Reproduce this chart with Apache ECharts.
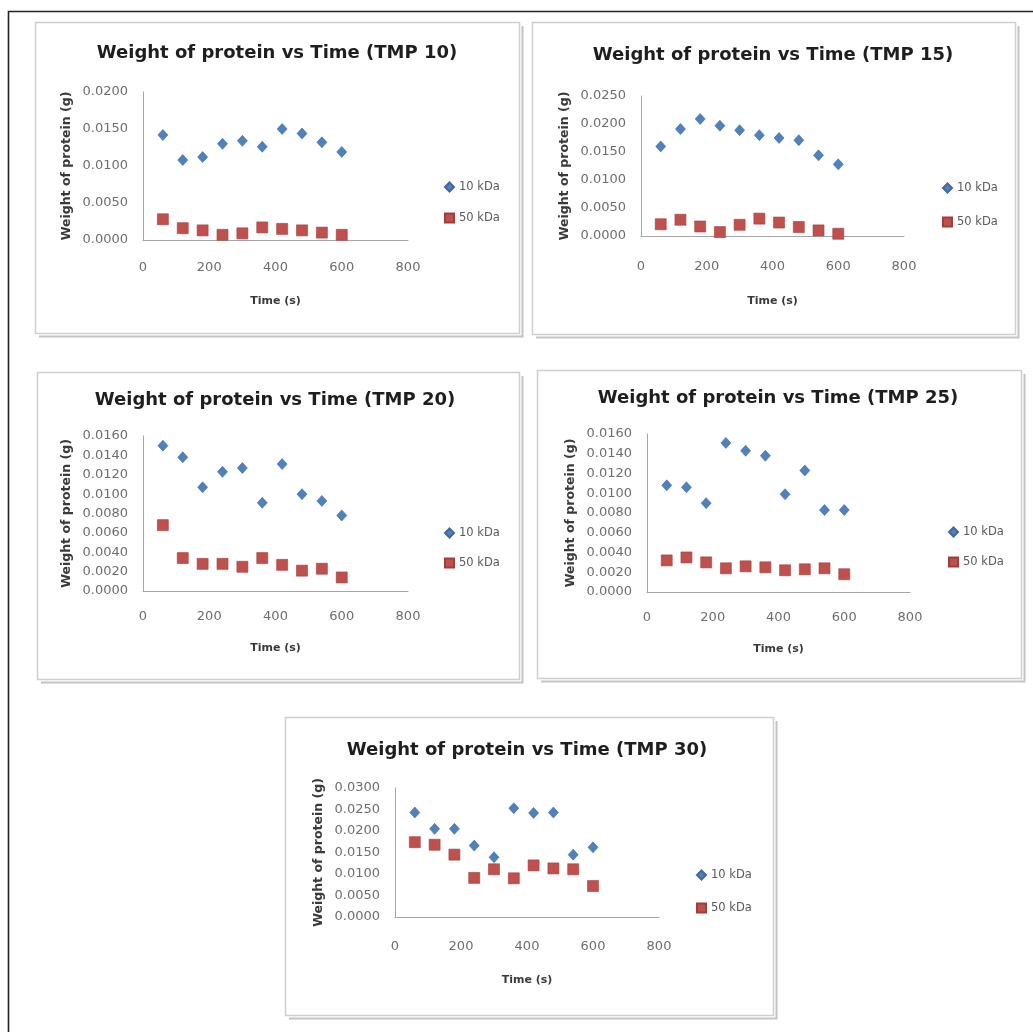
<!DOCTYPE html>
<html>
<head>
<meta charset="utf-8">
<title>Weight of protein vs Time</title>
<script src="https://cdn.jsdelivr.net/npm/echarts@6/dist/echarts.min.js"></script>
<style>
  html, body { margin: 0; padding: 0; background: #ffffff; }
  #chart { width: 1033px; height: 1032px; }
</style>
</head>
<body>
<div id="chart"></div>
<script>
// Sampling times (s), shared by every run
const timeS = [60, 120, 180, 240, 300, 360, 420, 480, 540, 600];

// Weight of protein (g) collected at each transmembrane pressure
const tmp10_10kDa = [0.0142, 0.0108, 0.0112, 0.0130, 0.0134, 0.0126, 0.0150, 0.0144, 0.0132, 0.0119];
const tmp10_50kDa = [0.0028, 0.0016, 0.0013, 0.0007, 0.0009, 0.0017, 0.0015, 0.0013, 0.0010, 0.0007];

const tmp15_10kDa = [0.0160, 0.0191, 0.0209, 0.0197, 0.0189, 0.0180, 0.0175, 0.0171, 0.0144, 0.0128];
const tmp15_50kDa = [0.0021, 0.0029, 0.0017, 0.0007, 0.0020, 0.0031, 0.0024, 0.0016, 0.0010, 0.0004];

const tmp20_10kDa = [0.0150, 0.0138, 0.0107, 0.0123, 0.0127, 0.0091, 0.0131, 0.0100, 0.0093, 0.0078];
const tmp20_50kDa = [0.0068, 0.0034, 0.0028, 0.0028, 0.0025, 0.0034, 0.0027, 0.0021, 0.0023, 0.0014];

const tmp25_10kDa = [0.0108, 0.0106, 0.0090, 0.0151, 0.0143, 0.0138, 0.0099, 0.0123, 0.0083, 0.0083];
const tmp25_50kDa = [0.0032, 0.0035, 0.0030, 0.0024, 0.0026, 0.0025, 0.0022, 0.0023, 0.0024, 0.0018];

const tmp30_10kDa = [0.0243, 0.0205, 0.0205, 0.0166, 0.0139, 0.0253, 0.0242, 0.0243, 0.0145, 0.0162];
const tmp30_50kDa = [0.0174, 0.0168, 0.0145, 0.0091, 0.0111, 0.0090, 0.0120, 0.0113, 0.0111, 0.0072];

// Chart titles and axis scales
const chartTitles = [
  'Weight of protein vs Time (TMP 10)',
  'Weight of protein vs Time (TMP 15)',
  'Weight of protein vs Time (TMP 20)',
  'Weight of protein vs Time (TMP 25)',
  'Weight of protein vs Time (TMP 30)'
];
const seriesNames = ['10 kDa', '50 kDa'];
const xTicks = [0, 200, 400, 600, 800];
const yMaxes = [0.0200, 0.0250, 0.0160, 0.0160, 0.0300];
const ySteps = [0.0050, 0.0050, 0.0020, 0.0020, 0.0050];
const xAxisTitle = 'Time (s)';
const yAxisTitle = 'Weight of protein (g)';

const panelData = [
  [tmp10_10kDa, tmp10_50kDa],
  [tmp15_10kDa, tmp15_50kDa],
  [tmp20_10kDa, tmp20_50kDa],
  [tmp25_10kDa, tmp25_50kDa],
  [tmp30_10kDa, tmp30_50kDa]
];

// Placement of each small chart on the page
const layout = [
  { frame: [35, 22, 484, 311], grid: [143, 92, 265, 148], title: [277, 53], legend: [444, 180, 31], xLab: 21, xName: 56 },
  { frame: [532, 22, 483, 312], grid: [641, 96, 263, 140], title: [773, 55], legend: [942, 181, 34], xLab: 24, xName: 60 },
  { frame: [37, 372, 482, 307], grid: [143, 436, 265, 155], title: [275, 400], legend: [444, 526, 30], xLab: 19, xName: 52 },
  { frame: [537, 370, 484, 308], grid: [647, 434, 263, 158], title: [778, 398], legend: [948, 525, 30], xLab: 19, xName: 52 },
  { frame: [285, 717, 488, 298], grid: [395, 788, 264, 129], title: [527, 750], legend: [696, 868, 33], xLab: 23, xName: 58 }
];

const BLUE = '#4F81BD';
const RED = '#C0504D';
const FONT = 'DejaVu Sans';

const option = {
  animation: false,
  backgroundColor: '#ffffff',
  title: [],
  legend: [],
  grid: [],
  xAxis: [],
  yAxis: [],
  series: [],
  graphic: []
};

// Outer border of the figure (top and left edges)
option.graphic.push({
  type: 'polyline',
  shape: { points: [[8.5, 1032], [8.5, 11.5], [1033, 11.5]] },
  style: { stroke: '#222', lineWidth: 1.6, fill: null },
  silent: true,
  z: -10
});

layout.forEach((L, i) => {
  const [fx, fy, fw, fh] = L.frame;
  // frame with a soft drop shadow on the right and bottom
  option.graphic.push({
    type: 'polyline',
    shape: { points: [[fx + 4, fy + fh + 3.5], [fx + fw + 3.5, fy + fh + 3.5], [fx + fw + 3.5, fy + 4]] },
    style: { stroke: '#c4c4c4', lineWidth: 2, fill: null },
    silent: true,
    z: -10
  });
  option.graphic.push({
    type: 'rect',
    shape: { x: fx + 0.5, y: fy + 0.5, width: fw, height: fh },
    style: { stroke: '#cfcfcf', lineWidth: 1.5, fill: null },
    silent: true,
    z: -10
  });

  const [gl, gt, gw, gh] = L.grid;
  option.grid.push({ left: gl, top: gt, width: gw, height: gh, containLabel: false });

  option.title.push({
    text: chartTitles[i],
    left: L.title[0],
    top: L.title[1] - 11,
    textAlign: 'center',
    padding: 0,
    textStyle: { fontFamily: FONT, fontSize: 18, fontWeight: 'bold', color: '#1e1e1e', lineHeight: 22 }
  });

  option.legend.push({
    data: seriesNames.map((n, k) => ({ name: n, icon: k === 0 ? 'diamond' : 'rect' })),
    orient: 'vertical',
    left: L.legend[0],
    top: L.legend[1],
    itemWidth: 9,
    itemHeight: 9,
    itemGap: L.legend[2] - 14,
    padding: 0,
    selectedMode: false,
    textStyle: { fontFamily: FONT, fontSize: 11.5, color: '#5a5a5a', lineHeight: 14 }
  });

  option.xAxis.push({
    type: 'value',
    gridIndex: i,
    min: xTicks[0],
    max: xTicks[xTicks.length - 1],
    interval: xTicks[1] - xTicks[0],
    name: xAxisTitle,
    nameLocation: 'middle',
    nameGap: L.xName,
    nameTextStyle: { fontFamily: FONT, fontSize: 11, fontWeight: 'bold', color: '#3a3a3a' },
    axisLine: { show: true, onZero: false, lineStyle: { color: '#a6a6a6', width: 1 } },
    axisTick: { show: false },
    splitLine: { show: false },
    axisLabel: { margin: L.xLab, fontFamily: FONT, fontSize: 13, color: '#6e6e6e' }
  });

  option.yAxis.push({
    type: 'value',
    gridIndex: i,
    min: 0,
    max: yMaxes[i],
    interval: ySteps[i],
    name: yAxisTitle,
    nameLocation: 'middle',
    nameRotate: 90,
    nameGap: 70,
    nameTextStyle: { fontFamily: FONT, fontSize: 12.5, fontWeight: 'bold', color: '#3a3a3a' },
    axisLine: { show: true, onZero: false, lineStyle: { color: '#a6a6a6', width: 1 } },
    axisTick: { show: false },
    splitLine: { show: false },
    axisLabel: {
      margin: 15,
      fontFamily: FONT,
      fontSize: 13,
      color: '#6e6e6e',
      formatter: v => v.toFixed(4)
    }
  });

  const [s10, s50] = panelData[i];
  option.series.push({
    name: seriesNames[0],
    type: 'scatter',
    xAxisIndex: i,
    yAxisIndex: i,
    symbol: 'diamond',
    symbolSize: [10, 11],
    itemStyle: { color: BLUE, borderColor: '#41699b', borderWidth: 0.6, opacity: 1 },
    data: timeS.map((t, k) => [t, s10[k]])
  });
  option.series.push({
    name: seriesNames[1],
    type: 'scatter',
    xAxisIndex: i,
    yAxisIndex: i,
    symbol: 'rect',
    symbolSize: 11,
    itemStyle: { color: RED, borderColor: '#9e3f3c', borderWidth: 0.6, opacity: 1 },
    data: timeS.map((t, k) => [t, s50[k]])
  });
});

const chart = echarts.init(document.getElementById('chart'), null, { renderer: 'canvas' });
chart.setOption(option);
</script>
</body>
</html>
